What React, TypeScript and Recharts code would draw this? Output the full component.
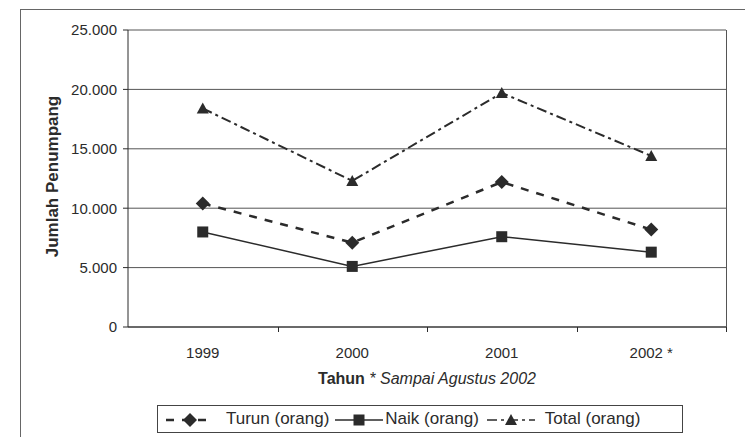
import React from 'react'
import { CartesianGrid, Label, LineChart, Line, XAxis, YAxis } from 'recharts'

const years = ['1999', '2000', '2001', '2002 *']
const turun = [10400, 7100, 12200, 8200]
const naik = [8000, 5100, 7600, 6300]
const total = [18400, 12300, 19700, 14400]
const yTicks = [0, 5000, 10000, 15000, 20000, 25000]

const data = years.map((year, i) => ({ year, turun: turun[i], naik: naik[i], total: total[i] }))

const INK = '#2b2b2b'
const FONT = '"Liberation Sans", Arial, sans-serif'

const W = 745
const H = 429
const MARGIN = { top: 22, right: 27, left: 20, bottom: 50 }
const Y_W = 100
const X_H = 60
const PLOT_X = MARGIN.left + Y_W
const PLOT_W = W - MARGIN.left - MARGIN.right - Y_W
const PLOT_H = H - MARGIN.top - MARGIN.bottom - X_H

const fmt = (v: number) => String(v).replace(/\B(?=(\d{3})+(?!\d))/g, '.')

const Diamond = ({ cx, cy }: any) =>
  cx == null ? null : (
    <path d={`M${cx} ${cy - 7}L${cx + 7} ${cy}L${cx} ${cy + 7}L${cx - 7} ${cy}Z`} fill={INK} />
  )

const Square = ({ cx, cy }: any) =>
  cx == null ? null : <rect x={cx - 5.5} y={cy - 5.5} width={11} height={11} fill={INK} />

const Triangle = ({ cx, cy }: any) =>
  cx == null ? null : <path d={`M${cx} ${cy - 6}L${cx + 6} ${cy + 5}L${cx - 6} ${cy + 5}Z`} fill={INK} />

const YearTick = ({ x, y, payload }: any) => (
  <text x={x} y={y + 31} textAnchor="middle" fontFamily={FONT} fontSize={15} fill={INK}>
    {payload.value}
  </text>
)

const YTitle = ({ viewBox }: any) => {
  const x = viewBox.x + 24
  const y = viewBox.y + viewBox.height / 2 - 2
  return (
    <text x={x} y={y} transform={`rotate(-90 ${x} ${y})`} textAnchor="middle" dominantBaseline="central"
      fontFamily={FONT} fontSize={17} fontWeight="bold" fill={INK}>
      Jumlah Penumpang
    </text>
  )
}

const XTitle = ({ viewBox }: any) => (
  <text x={viewBox.x + viewBox.width / 2} y={viewBox.y + 57} textAnchor="middle"
    fontFamily={FONT} fontSize={16} fill={INK}>
    <tspan fontWeight="bold">Tahun </tspan>
    <tspan fontStyle="italic">* Sampai Agustus 2002</tspan>
  </text>
)

const Swatch = ({ dash, marker, w = 52 }: { dash?: string; marker: string; w?: number }) => (
  <svg width={w} height={14} style={{ verticalAlign: 'middle' }}>
    <line x1={2} y1={7} x2={w - 2} y2={7} stroke={INK} strokeWidth={dash === '8 8' ? 2.5 : 1.5} strokeDasharray={dash} />
    {marker === 'diamond' && <Diamond cx={w / 2} cy={7} />}
    {marker === 'square' && <Square cx={w / 2} cy={7} />}
    {marker === 'triangle' && <Triangle cx={w / 2} cy={7} />}
  </svg>
)

export default function App() {
  return (
    <div style={{ position: 'relative', width: W, height: H, overflow: 'hidden', fontFamily: FONT, background: '#fff' }}>
      <div style={{ position: 'absolute', left: 12, top: 1, width: 800, height: 500, borderLeft: '1px solid #666', borderTop: '1px solid #666' }} />
      <LineChart width={W} height={H} data={data} margin={MARGIN}>
        <CartesianGrid vertical={false} stroke="#555" />
        <XAxis dataKey="year" scale="band" height={X_H} axisLine={{ stroke: INK }} tickLine={false}
          tickSize={0} tickMargin={0} tick={YearTick} interval={0}>
          <Label content={XTitle} />
        </XAxis>
        <YAxis width={Y_W} domain={[0, 25000]} ticks={yTicks} tickFormatter={fmt} tickSize={5} tickMargin={6}
          axisLine={{ stroke: INK }} tickLine={{ stroke: INK }} tick={{ fill: INK, fontSize: 15, fontFamily: FONT }}>
          <Label content={YTitle} />
        </YAxis>
        <Line dataKey="total" stroke={INK} strokeWidth={2} strokeDasharray="10 4 3 4"
          dot={<Triangle />} isAnimationActive={false} />
        <Line dataKey="turun" stroke={INK} strokeWidth={2.5} strokeDasharray="8 8"
          dot={<Diamond />} isAnimationActive={false} />
        <Line dataKey="naik" stroke={INK} strokeWidth={1.5}
          dot={<Square />} isAnimationActive={false} />
      </LineChart>
      {/* plot box right edge and the between-category tick marks, excel style */}
      <div style={{ position: 'absolute', left: PLOT_X + PLOT_W, top: MARGIN.top, width: 0, height: PLOT_H, borderLeft: '1px solid #555' }} />
      {years.map((y, i) => (
        <div key={y} style={{ position: 'absolute', left: PLOT_X + (i + 1) * PLOT_W / years.length,
          top: MARGIN.top + PLOT_H, width: 0, height: 5, borderLeft: `1px solid ${INK}` }} />
      ))}
      <div style={{ position: 'absolute', left: 149, top: 397, width: 524, height: 26, border: '1px solid #444',
        display: 'flex', alignItems: 'center', fontSize: 17, color: INK, whiteSpace: 'nowrap' }}>
        <span style={{ marginLeft: 6 }}><Swatch dash="8 8" marker="diamond" /></span>
        <span style={{ marginLeft: 10 }}>Turun (orang)</span>
        <span style={{ marginLeft: 4 }}><Swatch marker="square" /></span>
        <span>Naik (orang)</span>
        <span style={{ marginLeft: 6 }}><Swatch dash="10 4 3 4" marker="triangle" /></span>
        <span style={{ marginLeft: 8 }}>Total (orang)</span>
      </div>
    </div>
  )
}
